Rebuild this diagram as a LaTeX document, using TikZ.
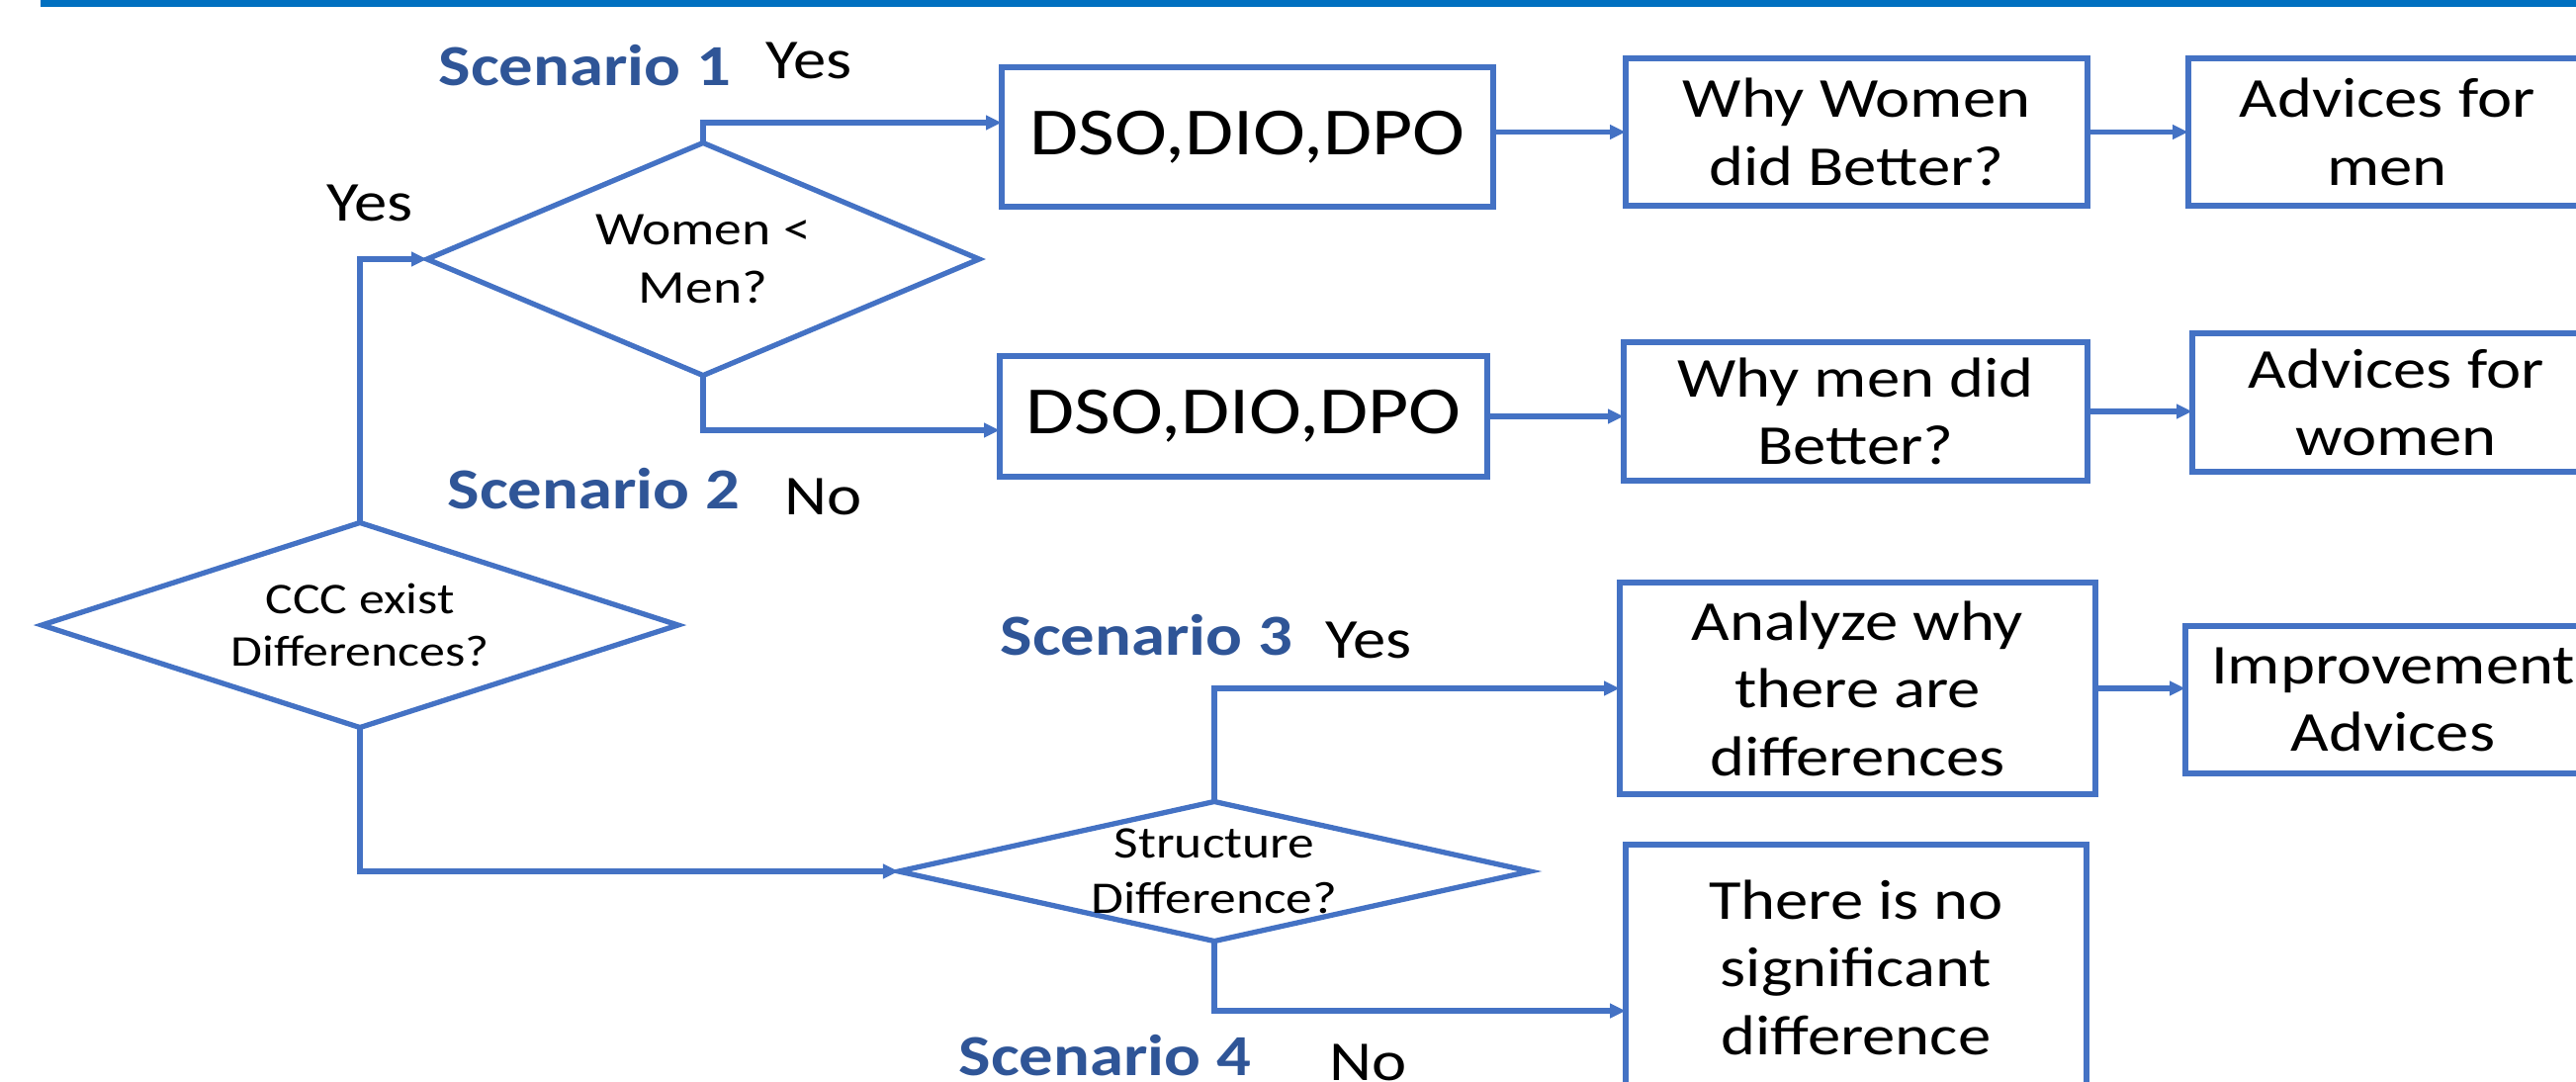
\documentclass[tikz,border=0pt]{standalone}
\usepackage{fontspec}
\setmainfont{Carlito}[FakeStretch=1.17]
\usetikzlibrary{shapes.geometric,arrows.meta}

\definecolor{barblue}{HTML}{0070C0}
\definecolor{lineblue}{HTML}{4472C4}
\definecolor{scenblue}{HTML}{2F5597}

\tikzset{
  box/.style={draw=lineblue, line width=1.6pt, inner sep=0pt, outer sep=0pt,
    align=center, font=\fontsize{16.2}{19.5}\selectfont},
  decision/.style={draw=lineblue, line width=1.5pt, diamond, inner sep=0pt, outer sep=0pt},
  qtext/.style={align=center, inner sep=0pt},
  arr/.style={draw=lineblue, line width=1.45pt, -{Triangle[length=4.5pt,width=4pt]}},
  scen/.style={anchor=base west, inner sep=0pt, text=scenblue,
    font=\fontsize{16.7}{20}\selectfont\bfseries},
  answer/.style={anchor=base west, inner sep=0pt, font=\fontsize{16.2}{19.5}\selectfont},
}

\begin{document}
\begin{tikzpicture}[x=0.01cm, y=-0.01cm]
  \useasboundingbox (0,0) rectangle (2605,1093);
  \clip (0,0) rectangle (2605,1093);

  % Bar on top
  \fill[barblue] (41,0) rectangle (2605,7);

  % Decisions
  \node[decision, minimum width=6.43cm, minimum height=2.07cm] (ccc) at (364,632) {};
  \node[qtext, font=\fontsize{12.6}{15}\selectfont] at (ccc) {CCC exist\\Differences?};

  \node[decision, minimum width=5.58cm, minimum height=2.35cm] (women) at (711,262) {};
  \node[qtext, font=\fontsize{13.5}{16.8}\selectfont] at (women) {Women <\\Men?};

  \node[decision, minimum width=6.38cm, minimum height=1.41cm] (struct) at (1228,881) {};
  \node[qtext, font=\fontsize{13}{16}\selectfont] at (struct) {Structure\\Difference?};

  % Scenario 1 and 2
  \node[box, minimum width=4.97cm, minimum height=1.41cm, font=\fontsize{19.4}{23}\selectfont]
    (dso1) at (1261.5,138.5) {DSO,DIO,DPO};
  \node[box, minimum width=4.67cm, minimum height=1.49cm] (why1) at (1877.5,133.5) {Why Women\\did Better?};
  \node[box, minimum width=4.02cm, minimum height=1.49cm] (adv1) at (2414,133.5) {Advices for\\men};

  \node[box, minimum width=4.93cm, minimum height=1.22cm, font=\fontsize{19.4}{23}\selectfont]
    (dso2) at (1257.5,421) {DSO,DIO,DPO};
  \node[box, minimum width=4.69cm, minimum height=1.40cm] (why2) at (1876.5,416) {Why men did\\Better?};
  \node[box, minimum width=4.12cm, minimum height=1.40cm] (adv2) at (2423,407) {Advices for\\women};

  % Scenario 3 and 4
  \node[box, minimum width=4.81cm, minimum height=2.14cm] (ana) at (1878.5,696) {Analyze why\\there are\\differences};
  \node[box, minimum width=4.20cm, minimum height=1.49cm] (imp) at (2420,707.5) {Improvement\\Advices};
  \node[box, minimum width=4.66cm, minimum height=2.48cm] (none) at (1877,978) {There is no\\significant\\difference};

  % Connectors
  \draw[arr] (ccc.north) |- (women.west);
  \draw[arr] (women.north) |- ([yshift=0.145cm]dso1.west);
  \draw[arr] (women.south) |- ([yshift=-0.14cm]dso2.west);
  \draw[arr] (dso1.east |- why1.west) -- (why1.west);
  \draw[arr] (why1.east) -- (adv1.west);
  \draw[arr] (dso2.east) -- (dso2.east -| why2.west);
  \draw[arr] (why2.east) -- (why2.east -| adv2.west);
  \draw[arr] (ccc.south) |- (struct.west);
  \draw[arr] (struct.north) |- (ana.west);
  \draw[arr] (struct.south) |- ([yshift=-0.44cm]none.west);
  \draw[arr] (ana.east) -- (ana.east -| imp.west);

  % Labels
  \node[scen] (s1) at (443,86) {Scenario 1};
  \node[answer] (yes1) at (774,79) {Yes};
  \node[answer] (yes0) at (330,223) {Yes};
  \node[scen] (s2) at (452,514) {Scenario 2};
  \node[answer] (no2) at (793,520) {No};
  \node[scen] (s3) at (1011,662) {Scenario 3};
  \node[answer] (yes3) at (1340,665) {Yes};
  \node[scen] (s4) at (969,1087) {Scenario 4};
  \node[answer] (no4) at (1344,1092) {No};
\end{tikzpicture}
\end{document}
